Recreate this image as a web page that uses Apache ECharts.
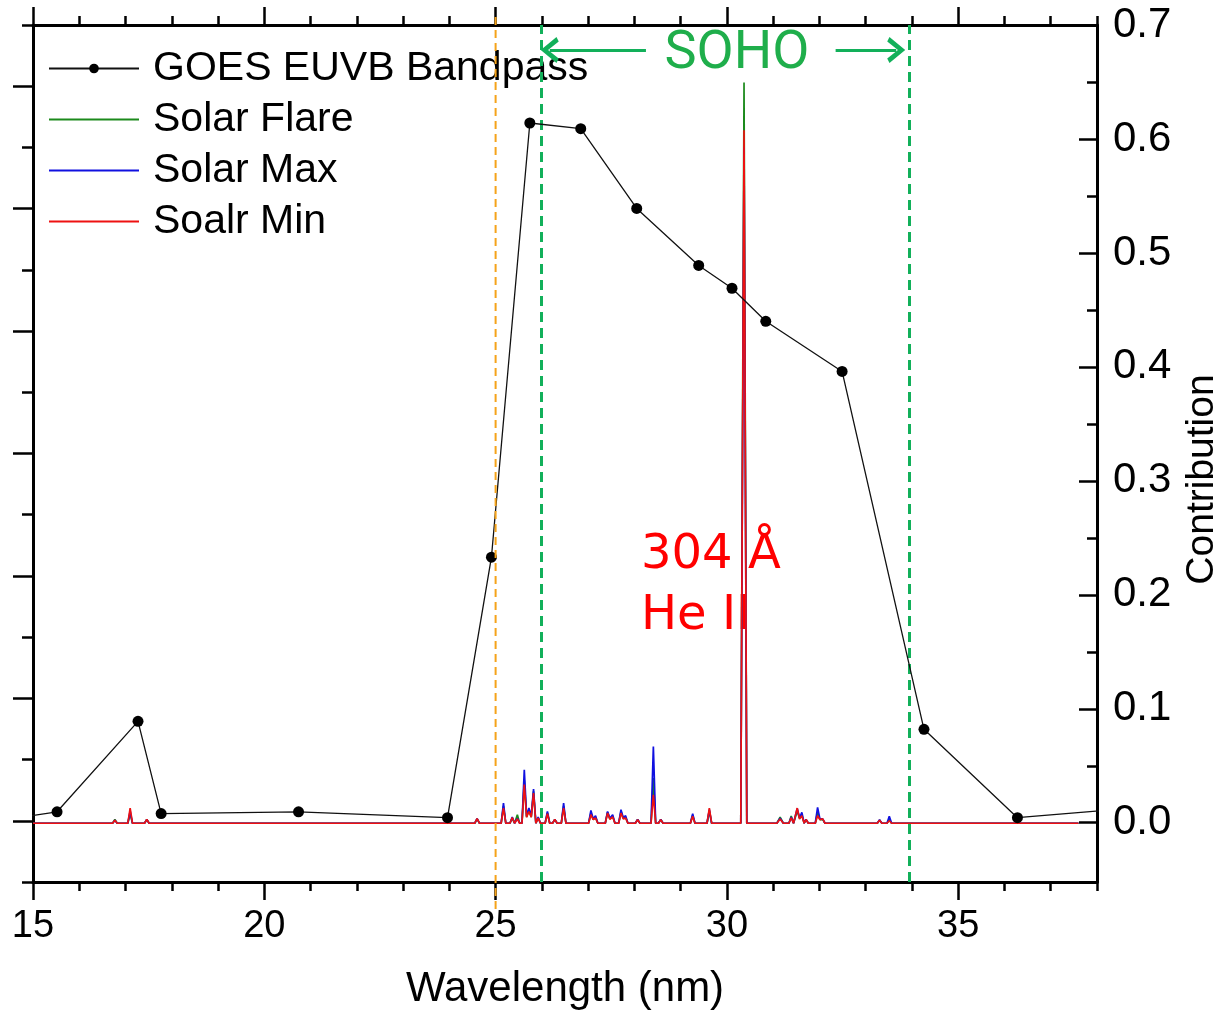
<!DOCTYPE html>
<html>
<head>
<meta charset="utf-8">
<script src="https://cdn.jsdelivr.net/npm/echarts@6/dist/echarts.min.js"></script>
<style>
html,body{margin:0;padding:0;background:#fff;}
#chart{width:1218px;height:1011px;}
</style>
</head>
<body>
<div id="chart"></div>
<script>
// ---------- DATA ----------
const xMajorTicks = [15, 20, 25, 30, 35];
const rightMajorTicks = [0.0, 0.1, 0.2, 0.3, 0.4, 0.5, 0.6, 0.7];
const rightMinorTicks = [0.05, 0.15, 0.25, 0.35, 0.45, 0.55, 0.65];
const leftMajorTicks = [0, 1, 2, 3, 4, 5, 6];

// GOES EUVB bandpass (right axis, Contribution)
const goesWl  = [14.3, 15.52, 17.27, 17.77, 20.74, 23.96, 24.91, 25.74, 26.84, 28.05, 29.39, 30.11, 30.84, 32.49, 34.26, 36.28, 38.5];
const goesVal = [0.002, 0.0096, 0.089, 0.008, 0.0096, 0.0044, 0.233, 0.614, 0.609, 0.539, 0.489, 0.469, 0.440, 0.396, 0.082, 0.0044, 0.012];

// Solar spectra (left axis, arbitrary units)
const specWl = [
  15.00, 16.72, 16.77, 16.82, 17.05, 17.10, 17.15, 17.41, 17.46, 17.51,
  24.55, 24.60, 24.65, 25.12, 25.17, 25.22, 25.31, 25.36, 25.41, 25.47,
  25.52, 25.57, 25.62, 25.67, 25.72, 25.77, 25.82, 25.87, 25.92, 25.97,
  26.07, 26.12, 26.17, 26.23, 26.28, 26.33, 26.42, 26.47, 26.52, 27.01,
  27.06, 27.11, 27.16, 27.21, 27.37, 27.42, 27.47, 27.53, 27.58, 27.66,
  27.71, 27.76, 27.81, 27.86, 28.02, 28.07, 28.12, 28.36, 28.41, 28.46,
  28.52, 28.57, 28.62, 29.21, 29.26, 29.31, 29.57, 29.62, 29.67, 30.30,
  30.37, 30.43, 31.08, 31.15, 31.22, 31.34, 31.39, 31.44, 31.47, 31.52,
  31.57, 31.62, 31.67, 31.71, 31.76, 31.91, 31.96, 32.01, 32.07, 32.12,
  33.25, 33.30, 33.35, 33.46, 33.51, 33.56, 37.60
];
const solarFlare = [
  -0.02, -0.02, 0.01, -0.02, -0.02, 0.06, -0.02, -0.02, 0.01, -0.02,
  -0.02, 0.015, -0.02, -0.02, 0.12, -0.02, -0.02, 0.02, -0.02, 0.05,
  -0.02, -0.02, 0.33, 0.03, 0.09, 0.03, 0.24, -0.02, 0.025, -0.02,
  -0.02, 0.065, -0.02, -0.02, 0.01, -0.02, -0.02, 0.12, -0.02, -0.02,
  0.065, 0.01, 0.03, -0.02, -0.02, 0.07, 0.015, 0.04, -0.02, -0.02,
  0.075, 0.02, 0.03, -0.02, -0.02, 0.01, -0.02, -0.02, 0.35, -0.02,
  -0.02, 0.01, -0.02, -0.02, 0.045, -0.02, -0.02, 0.08, -0.02, -0.02,
  6.03, -0.02, -0.02, 0.03, -0.02, -0.02, 0.04, -0.02, -0.02, 0.08,
  0.02, 0.05, -0.02, 0.01, -0.02, -0.02, 0.07, 0.01, 0.012, -0.02,
  -0.02, 0.005, -0.02, -0.02, 0.01, -0.02, -0.02
];
const solarMax = [
  -0.02, -0.02, 0.005, -0.02, -0.02, 0.08, -0.02, -0.02, 0.01, -0.02,
  -0.02, 0.017, -0.02, -0.02, 0.145, -0.02, -0.02, 0.03, -0.02, 0.02,
  -0.02, -0.02, 0.417, 0.04, 0.104, 0.04, 0.259, -0.02, 0.03, -0.02,
  -0.02, 0.076, -0.02, -0.02, 0.012, -0.02, -0.02, 0.145, -0.02, -0.02,
  0.085, 0.015, 0.041, -0.02, -0.02, 0.076, 0.02, 0.05, -0.02, -0.02,
  0.09, 0.025, 0.041, -0.02, -0.02, 0.012, -0.02, -0.02, 0.607, -0.02,
  -0.02, 0.012, -0.02, -0.02, 0.058, -0.02, -0.02, 0.09, -0.02, -0.02,
  5.50, -0.02, -0.02, 0.02, -0.02, -0.02, 0.03, -0.02, -0.02, 0.10,
  0.025, 0.068, -0.02, 0.012, -0.02, -0.02, 0.109, 0.015, 0.015, -0.02,
  -0.02, 0.008, -0.02, -0.02, 0.036, -0.02, -0.02
];
const solarMin = [
  -0.02, -0.02, 0.005, -0.02, -0.02, 0.104, -0.02, -0.02, 0.01, -0.02,
  -0.02, 0.017, -0.02, -0.02, 0.104, -0.02, -0.02, 0.027, -0.02, 0.015,
  -0.02, -0.02, 0.295, 0.03, 0.076, 0.03, 0.227, -0.02, 0.022, -0.02,
  -0.02, 0.058, -0.02, -0.02, 0.01, -0.02, -0.02, 0.104, -0.02, -0.02,
  0.05, 0.01, 0.022, -0.02, -0.02, 0.063, 0.012, 0.031, -0.02, -0.02,
  0.063, 0.015, 0.022, -0.02, -0.02, 0.008, -0.02, -0.02, 0.213, -0.02,
  -0.02, 0.008, -0.02, -0.02, 0.036, -0.02, -0.02, 0.104, -0.02, -0.02,
  5.64, -0.02, -0.02, 0.015, -0.02, -0.02, 0.025, -0.02, -0.02, 0.104,
  0.015, 0.041, -0.02, 0.01, -0.02, -0.02, 0.041, 0.01, 0.015, -0.02,
  -0.02, 0.005, -0.02, -0.02, 0.0, -0.02, -0.02
];

// Reference wavelengths (nm) for the vertical dashed lines and SOHO arrows
const bandEdge = [25];
const sohoRange = [25.98, 33.94];
const sohoArrowY = 0.678;
const sohoArrowLeft = [26.17, 28.25];
const sohoArrowRight = [32.35, 33.66];

// ---------- CHART ----------
const SANS = "'Liberation Sans', Arial, sans-serif";
const chevron = 'path://M0,14 L10,0 L20,14 L16.5,16 L10,6.5 L3.5,16 Z';

const zip = (xs, ys) => xs.map((x, i) => [x, ys[i]]);

const chart = echarts.init(document.getElementById('chart'), null, {renderer: 'canvas'});

const axisLineStyle = {color: '#000', width: 3};
const tickStyle = {width: 2.5, color: '#000'};

const option = {
  animation: false,
  backgroundColor: '#fff',
  grid: {left: 33, right: 121, top: 25, bottom: 129, containLabel: false, outerBoundsMode: 'none'},
  legend: {
    orient: 'vertical',
    left: 48,
    top: 48,
    padding: 0,
    itemWidth: 90,
    itemHeight: 12,
    itemGap: 10,
    data: [
      {name: 'GOES EUVB Bandpass'},
      {name: 'Solar Flare', itemStyle: {opacity: 0}},
      {name: 'Solar Max', itemStyle: {opacity: 0}},
      {name: 'Soalr Min', itemStyle: {opacity: 0}}
    ],
    textStyle: {fontFamily: SANS, fontSize: 41, color: '#000', lineHeight: 40, padding: [0, 0, 0, 9]}
  },
  xAxis: [
    {
      type: 'value', position: 'bottom', min: 15, max: 38, interval: 1,
      axisLine: {show: true, onZero: false, lineStyle: axisLineStyle},
      axisTick: {show: true, length: 18, customValues: xMajorTicks, lineStyle: tickStyle},
      axisLabel: {show: true, customValues: xMajorTicks, margin: 26, fontFamily: SANS, fontSize: 38, color: '#000'},
      splitLine: {show: false},
      name: 'Wavelength (nm)', nameLocation: 'middle', nameGap: 86,
      nameTextStyle: {fontFamily: SANS, fontSize: 42, color: '#000'}
    },
    {
      type: 'value', position: 'bottom', min: 15, max: 38, interval: 1,
      axisLine: {show: false, onZero: false},
      axisTick: {show: true, length: 9, lineStyle: tickStyle},
      axisLabel: {show: false}, splitLine: {show: false}
    },
    {
      type: 'value', position: 'top', min: 15, max: 38, interval: 1,
      axisLine: {show: true, onZero: false, lineStyle: axisLineStyle},
      axisTick: {show: true, length: 18, customValues: xMajorTicks, lineStyle: tickStyle},
      axisLabel: {show: false}, splitLine: {show: false}
    },
    {
      type: 'value', position: 'top', min: 15, max: 38, interval: 1,
      axisLine: {show: false, onZero: false},
      axisTick: {show: true, length: 9, lineStyle: tickStyle},
      axisLabel: {show: false}, splitLine: {show: false}
    }
  ],
  yAxis: [
    {
      type: 'value', position: 'left', min: -0.5, max: 6.5, interval: 0.5,
      axisLine: {show: true, onZero: false, lineStyle: axisLineStyle},
      axisTick: {show: true, length: 11, lineStyle: tickStyle},
      axisLabel: {show: false}, splitLine: {show: false}
    },
    {
      type: 'value', position: 'left', min: -0.5, max: 6.5, interval: 0.5,
      axisLine: {show: false, onZero: false},
      axisTick: {show: true, length: 20, customValues: leftMajorTicks, lineStyle: tickStyle},
      axisLabel: {show: false}, splitLine: {show: false}
    },
    {
      type: 'value', position: 'right', min: -0.052, max: 0.7,
      axisLine: {show: true, onZero: false, lineStyle: axisLineStyle},
      axisTick: {show: true, inside: true, length: 18, customValues: rightMajorTicks, lineStyle: tickStyle},
      axisLabel: {show: true, customValues: rightMajorTicks, margin: 16, fontFamily: SANS, fontSize: 42, color: '#000',
        formatter: v => Number(v).toFixed(1)},
      splitLine: {show: false},
      name: 'Contribution', nameLocation: 'middle', nameGap: 82,
      nameTextStyle: {fontFamily: SANS, fontSize: 39, color: '#000', padding: [0, 52, 0, 0]}
    },
    {
      type: 'value', position: 'right', min: -0.052, max: 0.7,
      axisLine: {show: false, onZero: false},
      axisTick: {show: true, inside: true, length: 10, customValues: rightMinorTicks, lineStyle: tickStyle},
      axisLabel: {show: false}, splitLine: {show: false}
    }
  ],
  graphic: [
    {type: 'text', x: 737, y: 54, style: {text: 'SOHO', fill: '#1fae4b', font: "54px Roboto, 'Noto Sans', sans-serif", textAlign: 'center', textVerticalAlign: 'middle'}},
    {type: 'text', x: 641, y: 556, style: {text: '304 Å', fill: '#ff0000', font: "48px 'DejaVu Sans', sans-serif", textAlign: 'left', textVerticalAlign: 'middle'}},
    {type: 'text', x: 641, y: 617, style: {text: 'He II', fill: '#ff0000', font: "48px 'DejaVu Sans', sans-serif", textAlign: 'left', textVerticalAlign: 'middle'}}
  ],
  series: [
    {
      name: 'Solar Flare', type: 'line', xAxisIndex: 0, yAxisIndex: 0,
      data: zip(specWl, solarFlare), symbol: 'none', lineStyle: {color: '#1c8a1c', width: 1.7}, itemStyle: {color: '#3f9a3f'},
      z: 2
    },
    {
      name: 'Solar Max', type: 'line', xAxisIndex: 0, yAxisIndex: 0,
      data: zip(specWl, solarMax), symbol: 'none', lineStyle: {color: '#1010e0', width: 1.7}, itemStyle: {color: '#3a3ab0'},
      z: 3
    },
    {
      name: 'Soalr Min', type: 'line', xAxisIndex: 0, yAxisIndex: 0,
      data: zip(specWl, solarMin), symbol: 'none', lineStyle: {color: '#ee1111', width: 1.7}, itemStyle: {color: '#d04545'},
      z: 4,
      markLine: {
        silent: true, symbol: ['none', 'none'], label: {show: false},
        data: [
          {xAxis: sohoRange[0], lineStyle: {color: '#12b05a', type: [10, 6], width: 3}},
          {xAxis: sohoRange[1], lineStyle: {color: '#12b05a', type: [10, 6], width: 3}}
        ]
      }
    },
    {
      // orange band-edge line, extending slightly beyond the plot frame as in the original
      type: 'custom', xAxisIndex: 0, yAxisIndex: 2, silent: true, clip: false, z: 6,
      data: bandEdge.map(v => [v]),
      renderItem: (params, api) => {
        const top = api.coord([api.value(0), 0.7]);
        const bot = api.coord([api.value(0), -0.052]);
        return {
          type: 'line',
          shape: {x1: top[0], y1: top[1] - 8, x2: bot[0], y2: bot[1] + 28},
          style: {stroke: '#f5a31a', lineWidth: 2, lineDash: [8, 5]}
        };
      }
    },
    {
      name: 'GOES EUVB Bandpass', type: 'line', xAxisIndex: 0, yAxisIndex: 2,
      data: zip(goesWl, goesVal), symbol: 'circle', symbolSize: 11, showSymbol: true,
      lineStyle: {color: '#111', width: 1.3}, itemStyle: {color: '#000'},
      z: 5,
      markLine: {
        silent: true, label: {show: false},
        symbol: ['none', chevron], symbolSize: [26, 18],
        lineStyle: {color: '#12b05a', type: 'solid', width: 3},
        data: [
          [{coord: [sohoArrowLeft[1], sohoArrowY]}, {coord: [sohoArrowLeft[0], sohoArrowY]}],
          [{coord: [sohoArrowRight[0], sohoArrowY]}, {coord: [sohoArrowRight[1], sohoArrowY]}]
        ]
      }
    }
  ]
};
chart.setOption(option);
</script>
</body>
</html>
